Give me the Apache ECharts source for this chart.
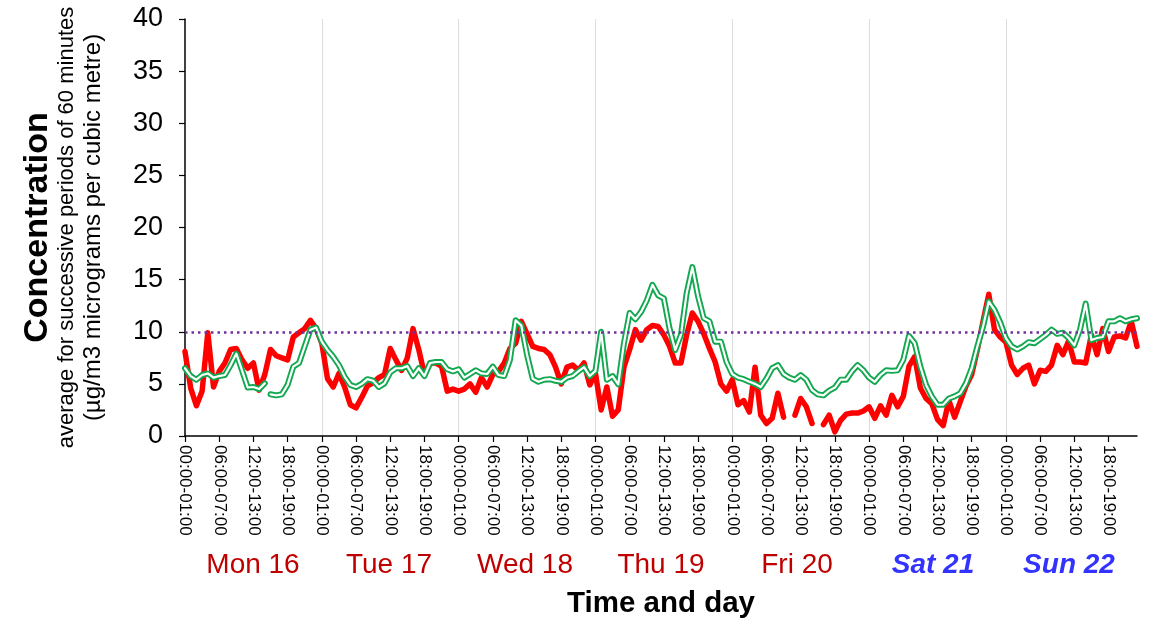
<!DOCTYPE html>
<html>
<head>
<meta charset="utf-8">
<script src="https://cdn.jsdelivr.net/npm/echarts@6/dist/echarts.min.js"></script>
<style>
html,body{margin:0;padding:0;background:#fff}
#chart{width:1153px;height:622px}
</style>
</head>
<body>
<div id="chart"></div>
<script>
// ---- data ----
const days = ['Mon 16', 'Tue 17', 'Wed 18', 'Thu 19', 'Fri 20', 'Sat 21', 'Sun 22'];
const weekendDays = ['Sat 21', 'Sun 22'];
const hourLabels = [
  '00:00-01:00','01:00-02:00','02:00-03:00','03:00-04:00','04:00-05:00','05:00-06:00',
  '06:00-07:00','07:00-08:00','08:00-09:00','09:00-10:00','10:00-11:00','11:00-12:00',
  '12:00-13:00','13:00-14:00','14:00-15:00','15:00-16:00','16:00-17:00','17:00-18:00',
  '18:00-19:00','19:00-20:00','20:00-21:00','21:00-22:00','22:00-23:00','23:00-00:00'
];
// hourly means (red)
const hourlyMon = [8.1,4.6,2.9,4.3,9.9,4.7,6.2,7.0,8.3,8.4,7.3,6.5,7.0,4.4,5.9,8.3,7.7,7.5,7.3,9.5,9.9,10.3,11.1,10.3];
const hourlyTue = [8.9,5.5,4.7,6.0,4.7,3.0,2.7,3.7,4.8,5.1,5.6,5.9,8.4,7.3,6.3,7.5,10.3,8.3,5.9,7.0,7.0,6.7,4.3,4.5];
const hourlyWed = [4.3,4.5,5.0,4.2,5.6,4.7,5.9,6.2,7.0,8.4,8.9,11.0,9.8,8.6,8.4,8.3,7.8,6.6,5.0,6.6,6.8,6.3,7.0,4.9];
const hourlyThu = [6.0,2.5,4.7,1.9,2.5,6.6,8.3,10.2,9.2,10.2,10.6,10.5,9.7,8.6,7.0,7.0,9.7,11.8,11.0,9.8,8.4,7.1,5.0,4.3];
const hourlyFri = [5.4,3.0,3.4,2.3,6.6,2.0,1.2,1.7,4.1,1.8,null,2.0,3.6,2.8,1.2,null,1.1,2.0,0.4,1.5,2.1,2.2,2.2,2.4];
const hourlySat = [2.8,1.7,2.9,2.0,3.9,2.8,3.8,6.7,7.6,4.6,3.6,3.1,1.6,1.0,3.4,1.8,3.3,4.8,5.9,8.3,11.0,13.6,10.2,9.5];
const hourlySun = [9.0,6.8,5.9,6.5,6.8,5.0,6.3,6.2,6.8,8.7,7.8,9.1,7.1,7.1,7.0,9.7,7.8,10.3,8.1,9.5,9.6,9.4,11.0,8.6];
// comparison line (green double line)
const greenMon = [6.5,5.75,5.4,5.85,6.0,5.6,5.75,5.85,6.8,7.9,6.3,4.65,4.7,4.5,5.05,4.0,3.9,4.0,4.9,6.65,7.0,8.6,10.2,10.4];
const greenTue = [9.05,8.25,7.6,6.8,5.7,4.9,4.7,5.0,5.45,5.3,4.7,5.05,6.1,6.5,6.5,6.7,5.75,6.5,5.75,7.0,7.1,7.1,6.4,6.2];
const greenWed = [6.4,5.6,5.95,6.3,6.0,5.95,6.65,5.85,5.75,7.3,11.1,10.6,7.8,5.5,5.2,5.4,5.45,5.3,5.2,5.6,5.75,6.2,6.6,5.75];
const greenThu = [6.25,10.0,5.4,5.75,4.95,8.9,11.8,11.2,11.9,13.0,14.5,13.5,13.2,10.3,8.25,9.7,13.7,16.2,13.4,11.3,11.0,9.05,9.05,7.1];
const greenFri = [5.95,5.6,5.45,5.2,5.0,4.7,5.5,6.5,6.8,5.95,5.6,5.4,5.85,5.4,4.4,4.0,3.9,4.35,4.65,5.4,5.4,6.2,6.8,6.3];
const greenSat = [5.6,5.2,5.85,6.3,6.25,6.3,7.3,9.6,8.9,6.65,4.9,3.8,3.0,3.0,3.6,3.8,4.1,5.05,6.5,8.6,10.5,12.9,12.1,10.9];
const greenSun = [9.4,8.6,8.3,8.6,9.0,8.9,9.3,9.7,10.2,9.8,9.9,9.4,8.7,10.2,12.7,9.2,9.4,9.5,11.0,11.0,11.3,11.0,11.2,11.3];
const greenBreakIndex = 15;   // green line is not joined between hour 14 and 15 on Monday
const limitValue = 10;
const yMin = 0, yMax = 40, yStep = 5;

// ---- build ----
const hourly = [].concat(hourlyMon, hourlyTue, hourlyWed, hourlyThu, hourlyFri, hourlySat, hourlySun);
const green = [].concat(greenMon, greenTue, greenWed, greenThu, greenFri, greenSat, greenSun);
const categories = [];
days.forEach(d => hourLabels.forEach(h => categories.push(d + '|' + h)));
const greenA = green.map((v, i) => i < greenBreakIndex ? v : null);
const greenB = green.map((v, i) => i >= greenBreakIndex ? v : null);

const FONT = "'Liberation Sans', Arial, sans-serif";
const GREEN = '#12a850';

function doubleLine(data, name) {
  return [
    { name: name, type: 'line', data: data, symbol: 'none', z: 3, silent: true,
      lineStyle: { color: GREEN, width: 6, cap: 'round', join: 'round' } },
    { name: name + ' inner', type: 'line', data: data, symbol: 'none', z: 4, silent: true,
      lineStyle: { color: '#ffffff', width: 2.2, cap: 'round', join: 'round' } }
  ];
}

const chart = echarts.init(document.getElementById('chart'), null, { renderer: 'canvas' });
chart.setOption({
  animation: false,
  backgroundColor: '#ffffff',
  grid: { left: 185, right: 16, top: 19, bottom: 186, containLabel: false, outerBoundsMode: 'none' },
  xAxis: [
    {
      type: 'category', data: categories, boundaryGap: false,
      axisLine: { lineStyle: { color: '#000', width: 1.5 } },
      axisTick: { interval: i => i % 6 === 0, length: 6, lineStyle: { color: '#000', width: 1.2 } },
      axisLabel: {
        interval: i => i % 6 === 0, rotate: -90, margin: 9,
        formatter: v => v.split('|')[1],
        fontSize: 17, color: '#000', fontFamily: FONT
      },
      splitLine: { show: true, interval: i => i % 24 === 0 && i > 0, lineStyle: { color: '#dedede', width: 1 } }
    },
    {
      type: 'category', data: days, boundaryGap: true, position: 'bottom',
      axisLine: { show: false }, axisTick: { show: false }, splitLine: { show: false },
      axisLabel: {
        margin: 115, interval: 0,
        formatter: v => weekendDays.indexOf(v) >= 0 ? '{we|' + v + '}' : '{wd|' + v + '}',
        rich: {
          wd: { color: '#c00000', fontSize: 28, fontFamily: FONT },
          we: { color: '#3333ff', fontSize: 28, fontFamily: FONT, fontWeight: 'bold', fontStyle: 'italic' }
        }
      },
      name: 'Time and day', nameLocation: 'middle', nameGap: 153, nameMoveOverlap: false,
      nameTextStyle: { fontSize: 29.5, fontWeight: 'bold', color: '#000', fontFamily: FONT }
    }
  ],
  yAxis: {
    type: 'value', min: yMin, max: yMax, interval: yStep,
    axisLine: { show: true, lineStyle: { color: '#000', width: 1.5 } },
    axisTick: { show: true, length: 6, lineStyle: { color: '#000', width: 1.2 } },
    axisLabel: { fontSize: 27, color: '#000', margin: 22, fontFamily: FONT },
    splitLine: { show: false },
    name: '{a|Concentration}\n{b|average for successive periods of 60 minutes}\n{c|(µg/m3 micrograms per cubic metre)}',
    nameLocation: 'middle', nameRotate: 90, nameGap: 79, nameMoveOverlap: false,
    nameTextStyle: {
      color: '#000', fontFamily: FONT,
      rich: {
        a: { fontSize: 34, fontWeight: 'bold', lineHeight: 32, color: '#000', fontFamily: FONT },
        b: { fontSize: 22, lineHeight: 26, color: '#000', fontFamily: FONT },
        c: { fontSize: 24, lineHeight: 26, color: '#000', fontFamily: FONT }
      }
    }
  },
  series: [
    {
      name: 'Hourly', type: 'line', data: hourly, symbol: 'none', z: 2, silent: true,
      lineStyle: { color: '#ff0000', width: 5.5, cap: 'round', join: 'round' },
      markLine: {
        silent: true, symbol: 'none', label: { show: false },
        lineStyle: { color: '#7030a0', type: [2.5, 4], width: 2.5 },
        data: [{ yAxis: limitValue }]
      }
    }
  ].concat(doubleLine(greenA, 'Running A'), doubleLine(greenB, 'Running B'))
});
</script>
</body>
</html>
